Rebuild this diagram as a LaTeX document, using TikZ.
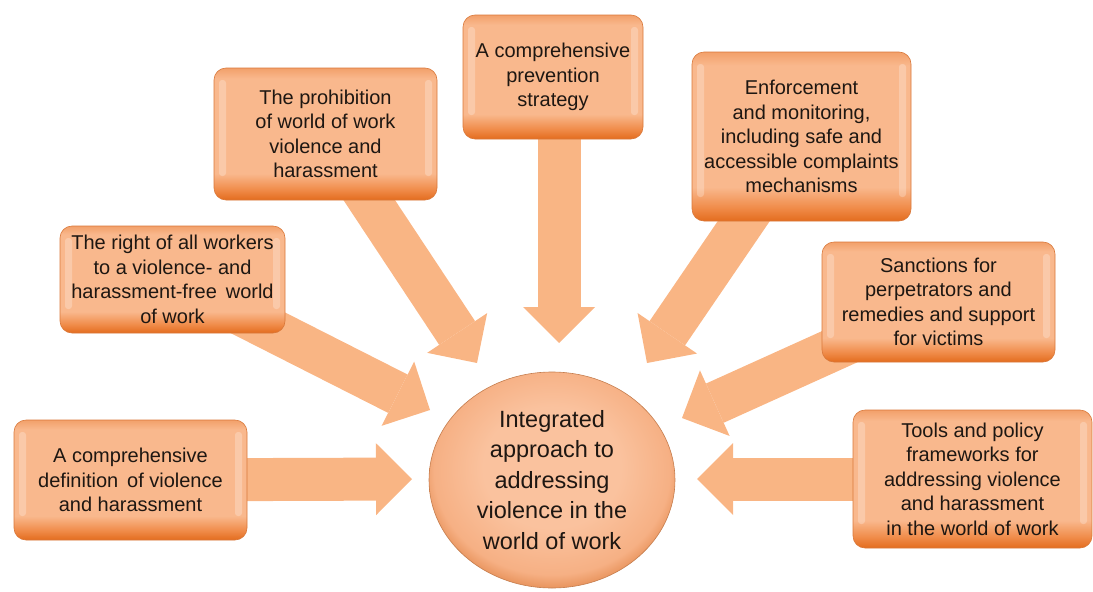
\documentclass[tikz,border=0pt]{standalone}
\usepackage{fontspec}
\setmainfont{Liberation Sans}
\usetikzlibrary{arrows.meta,calc,backgrounds,shapes.geometric}

\definecolor{peach}{HTML}{F9B88D}
\definecolor{peachtop}{HTML}{F2A06A}
\definecolor{orangemid}{HTML}{F08C4A}
\definecolor{orangedeep}{HTML}{E36C1E}
\definecolor{arrowc}{HTML}{F9B584}
\definecolor{txt}{HTML}{1E1712}
\definecolor{rim}{HTML}{D9783A}
\definecolor{ballA}{HTML}{FAC29E}
\definecolor{ballB}{HTML}{F6B084}
\definecolor{ballC}{HTML}{E8935C}

\pgfdeclareverticalshading{boxshade}{100bp}{color(0bp)=(orangedeep); color(25bp)=(orangedeep); color(29bp)=(orangemid); color(35bp)=(peach); color(71bp)=(peach); color(75bp)=(peachtop); color(100bp)=(peachtop)}
\pgfdeclareradialshading{ballshade}{\pgfpoint{0bp}{4bp}}{color(0bp)=(ballA); color(14bp)=(ballA); color(24bp)=(ballB); color(27bp)=(ballC); color(50bp)=(ballC)}

\tikzset{
  box/.style={rounded corners=12pt, shade, shading=boxshade, draw=rim, line width=0.6pt,
    text=txt, align=center, inner sep=0pt, font=\fontsize{20}{24.5}\selectfont,
    path picture={
      \fill[white, opacity=0.25, rounded corners=3pt]
        ([xshift=5pt,yshift=-12pt]path picture bounding box.north west) rectangle
        ([xshift=12pt,yshift=24pt]path picture bounding box.south west);
      \fill[white, opacity=0.25, rounded corners=3pt]
        ([xshift=-5pt,yshift=-12pt]path picture bounding box.north east) rectangle
        ([xshift=-12pt,yshift=24pt]path picture bounding box.south east);
    }},
  ball/.style={ellipse, shade, shading=ballshade, draw=ballC!85!black, line width=0.6pt,
    text=txt, align=center, inner sep=0pt, font=\fontsize{23.5}{30.5}\selectfont},
  blockarrow/.style={draw=arrowc, line width=43pt,
    -{Triangle[width=72pt,length=36pt,line width=0pt]}}
}

\begin{document}
\begin{tikzpicture}[x=1pt,y=-1pt]
\useasboundingbox (0,0) rectangle (1093,592);

\node[box, minimum width=233pt, minimum height=120pt] (b1) at (130.5,480)
  {A comprehensive\\definition\, of violence\\and harassment};
\node[box, minimum width=225pt, minimum height=107pt] (b2) at (172.5,279.5)
  {The right of all workers\\to a violence- and\\harassment-free\, world\\of work};
\node[box, minimum width=223pt, minimum height=132pt] (b3) at (325.5,134)
  {The prohibition\\of world of work\\violence and\\harassment};
\node[box, minimum width=180pt, minimum height=124pt] (b4) at (553,77)
  {A comprehensive\\prevention\\strategy};
\node[box, minimum width=219pt, minimum height=169pt] (b5) at (801.5,136.5)
  {Enforcement\\and monitoring,\\including safe and\\accessible complaints\\mechanisms};
\node[box, minimum width=233pt, minimum height=120pt] (b6) at (938.5,302)
  {Sanctions for\\perpetrators and\\remedies and support\\for victims};
\node[box, minimum width=239pt, minimum height=138pt] (b7) at (972.5,479)
  {Tools and policy\\frameworks for\\addressing violence\\and harassment\\in the world of work};

\node[ball, minimum width=246pt, minimum height=216pt] (c) at (552,480)
  {Integrated\\approach to\\addressing\\violence in the\\world of work};

\coordinate (t1) at (412,479);
\coordinate (t2) at (430,410);
\coordinate (t3) at (477,363);
\coordinate (t4) at (559,343);
\coordinate (t5) at (647,363);
\coordinate (t6) at (682,418);
\coordinate (t7) at (697,479);

\begin{scope}[on background layer]
  \draw[blockarrow] (b1.center) -- (t1);
  \draw[blockarrow] (b2.center) -- (t2);
  \draw[blockarrow] (b3.center) -- (t3);
  \draw[blockarrow] (t4 |- b4.center) -- (t4);
  \draw[blockarrow] (b5.center) -- (t5);
  \draw[blockarrow] (b6.center) -- (t6);
  \draw[blockarrow] (b7.center) -- (t7);
\end{scope}
\end{tikzpicture}
\end{document}
